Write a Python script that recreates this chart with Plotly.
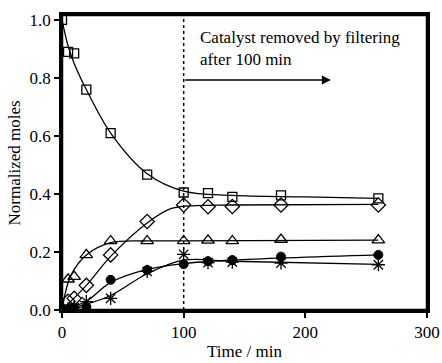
import plotly.graph_objects as go

# Measured data (time in min)
time = [0, 5, 10, 20, 40, 70, 100, 120, 140, 180, 260]
squares = [1.0, 0.89, 0.885, 0.76, 0.61, 0.467, 0.405, 0.403, 0.39, 0.395, 0.385]
diamonds = [0.0, 0.03, 0.04, 0.085, 0.19, 0.305, 0.362, 0.356, 0.357, 0.362, 0.362]
triangles = [0.0, 0.106, 0.115, 0.19, 0.238, 0.238, 0.238, 0.24, 0.238, 0.243, 0.241]
circles = [0.0, 0.004, 0.006, 0.01, 0.104, 0.138, 0.158, 0.168, 0.172, 0.184, 0.19]
stars = [0.0, 0.005, 0.008, 0.029, 0.04, 0.133, 0.192, 0.163, 0.165, 0.162, 0.156]

# Fitted curves
sq_fit_t = [0, 5, 10, 20, 40, 70, 100, 140, 200, 260]
sq_fit_y = [1.0, 0.91, 0.85, 0.76, 0.61, 0.47, 0.41, 0.395, 0.39, 0.385]
tri_fit_t = [0, 5, 10, 20, 40, 70, 100, 260]
tri_fit_y = [0.0, 0.095, 0.14, 0.19, 0.232, 0.238, 0.238, 0.241]
dia_fit_t = [0, 20, 40, 70, 90, 110, 140, 260]
dia_fit_y = [0.0, 0.085, 0.185, 0.3, 0.35, 0.36, 0.362, 0.364]
cir_fit_t = [0, 20, 40, 70, 100, 140, 260]
cir_fit_y = [0.0, 0.03, 0.095, 0.14, 0.16, 0.172, 0.19]
sta_fit_t = [0, 20, 40, 70, 100, 140, 260]
sta_fit_y = [0.0, 0.02, 0.05, 0.125, 0.172, 0.168, 0.157]

x_ticks = [0, 100, 200, 300]
y_ticks = [0.0, 0.2, 0.4, 0.6, 0.8, 1.0]

FONT = "Liberation Serif, Times New Roman, Times, serif"
FS = 17
fig = go.Figure()

for ft, fy in [(sq_fit_t, sq_fit_y), (tri_fit_t, tri_fit_y), (dia_fit_t, dia_fit_y),
               (cir_fit_t, cir_fit_y), (sta_fit_t, sta_fit_y)]:
    fig.add_trace(go.Scatter(x=ft, y=fy, mode="lines",
                             line=dict(color="black", width=1.3, shape="spline", smoothing=1.0),
                             showlegend=False, hoverinfo="skip"))

markers = [
    (squares, "square-open", 9, 1.3),
    (diamonds, "diamond-open", 11, 1.3),
    (triangles, "triangle-up-open", 11, 1.3),
    (circles, "circle", 9, 1.0),
    (stars, "asterisk-open", 11, 1.3),
]
for ys, sym, sz, lw in markers:
    fig.add_trace(go.Scatter(x=time, y=ys, mode="markers",
                             marker=dict(symbol=sym, size=sz, color="black",
                                         line=dict(color="black", width=lw)),
                             showlegend=False))

fig.add_shape(type="line", x0=100, x1=100, y0=0, y1=1, yref="paper",
              line=dict(color="black", width=1.5, dash="dot"))
# plot frame
for (a0, a1, b0, b1) in [(0, 0, 0, 1), (1, 1, 0, 1), (0, 1, 0, 0), (0, 1, 1, 1)]:
    fig.add_shape(type="line", x0=a0, x1=a1, y0=b0, y1=b1, xref="paper", yref="paper",
                  line=dict(color="black", width=2.5))

fig.add_annotation(x=112, y=0.902, xref="x", yref="y", showarrow=False,
                   text="Catalyst removed by filtering<br>after 100 min",
                   xanchor="left", yanchor="middle", align="left",
                   font=dict(family=FONT, size=FS, color="black"))
fig.add_annotation(x=221, y=0.793, ax=100, ay=0.793, xref="x", yref="y",
                   axref="x", ayref="y", showarrow=True, arrowhead=2,
                   arrowsize=1.2, arrowwidth=1.5, arrowcolor="black", text="")
fig.add_annotation(x=0.5, y=-0.142, xref="paper", yref="paper", showarrow=False,
                   text="Time / min", xanchor="center", yanchor="middle",
                   font=dict(family=FONT, size=FS, color="black"))
fig.add_annotation(x=-0.129, y=0.5, xref="paper", yref="paper", showarrow=False,
                   text="Normalized moles", textangle=-90, xanchor="center", yanchor="middle",
                   font=dict(family=FONT, size=FS, color="black"))

fig.update_layout(
    width=442, height=363,
    margin=dict(l=62, r=15, t=15, b=53, autoexpand=False),
    paper_bgcolor="white", plot_bgcolor="white",
    font=dict(family=FONT, size=FS, color="black"),
    xaxis=dict(range=[0, 300], tickvals=x_ticks, showgrid=False, zeroline=False,
               automargin=False,
               showline=True, linewidth=2.5, linecolor="black", mirror=True,
               ticks="outside", ticklen=5, tickwidth=2, tickcolor="black",
               tickfont=dict(family=FONT, size=FS, color="black")),
    yaxis=dict(range=[0, 1.017], tickvals=y_ticks, tickformat=".1f", showgrid=False,
               automargin=False,
               zeroline=False, showline=True, linewidth=2.5, linecolor="black", mirror=True,
               ticks="outside", ticklen=5, tickwidth=2, tickcolor="black",
               tickfont=dict(family=FONT, size=FS, color="black")),
)

fig.write_html("out.html", config={"displayModeBar": False},
               post_script="document.body.style.margin='0';document.body.style.padding='0';")
